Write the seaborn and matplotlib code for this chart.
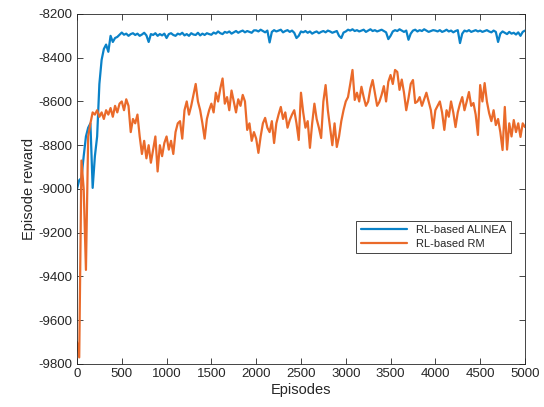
"""
Episode reward curves for the two RL controllers (ALINEA vs RM).
"""

import numpy as np
import pandas as pd
import matplotlib
matplotlib.use("Agg")
import matplotlib.pyplot as plt
import seaborn as sns

# =========================
# Data (one value every 25 episodes)
# =========================

episodes = np.arange(0, 5001, 25)

reward_alinea = [
    -9000, -8960, -8950, -8850, -8760, -8720, -8700, -8995, -8850, -8760,
    -8520, -8410, -8360, -8340, -8373, -8300, -8328, -8310, -8305, -8295,
    -8285, -8295, -8290, -8300, -8292, -8288, -8296, -8290, -8300, -8294,
    -8286, -8298, -8328, -8292, -8296, -8288, -8300, -8292, -8298, -8290,
    -8310, -8292, -8288, -8296, -8300, -8290, -8294, -8286, -8298, -8292,
    -8300, -8288, -8294, -8296, -8286, -8298, -8290, -8296, -8288, -8292,
    -8295, -8285, -8290, -8280, -8288, -8292, -8282, -8286, -8280, -8290,
    -8284, -8278, -8286, -8280, -8276, -8284, -8278, -8282, -8286, -8275,
    -8275, -8280, -8272, -8278, -8284, -8276, -8330, -8282, -8274, -8280,
    -8276, -8272, -8284, -8278, -8274, -8282, -8276, -8286, -8310, -8300,
    -8280, -8284, -8278, -8286, -8280, -8290, -8284, -8280, -8288, -8282,
    -8278, -8284, -8276, -8280, -8286, -8282, -8278, -8300, -8310, -8285,
    -8280, -8272, -8276, -8270, -8278, -8274, -8280, -8276, -8272, -8282,
    -8276, -8270, -8278, -8274, -8280, -8276, -8272, -8278, -8284, -8315,
    -8300, -8280, -8274, -8278, -8270, -8276, -8282, -8276, -8318, -8290,
    -8276, -8272, -8280, -8274, -8278, -8270, -8276, -8282, -8278, -8274,
    -8276, -8280, -8274, -8282, -8278, -8272, -8280, -8276, -8284, -8278,
    -8274, -8333, -8290, -8276, -8280, -8274, -8282, -8278, -8274, -8280,
    -8276, -8282, -8278, -8274, -8280, -8284, -8276, -8282, -8328, -8290,
    -8280, -8286, -8292, -8282, -8290, -8286, -8294, -8284, -8300, -8282,
    -8276,
]

reward_rm = [
    -9700, -9770, -8870, -9000, -9370, -8760, -8700, -8650, -8660, -8640,
    -8670, -8650, -8680, -8640, -8660, -8630, -8670, -8620, -8650, -8610,
    -8600, -8640, -8590, -8620, -8740, -8680, -8700, -8660, -8760, -8840,
    -8780, -8860, -8800, -8880, -8820, -8760, -8920, -8800, -8850, -8790,
    -8760, -8820, -8780, -8840, -8740, -8700, -8690, -8770, -8640, -8600,
    -8660, -8620, -8570, -8520, -8600, -8640, -8700, -8770, -8680, -8640,
    -8610, -8650, -8560, -8600, -8540, -8495, -8610, -8580, -8640, -8550,
    -8600, -8650, -8590, -8620, -8570, -8600, -8730, -8700, -8780, -8740,
    -8770, -8835, -8760, -8700, -8675, -8720, -8740, -8690, -8790, -8700,
    -8660, -8625, -8680, -8650, -8720, -8685, -8660, -8640, -8700, -8776,
    -8560, -8650, -8720, -8690, -8812, -8700, -8610, -8680, -8720, -8767,
    -8600, -8525, -8640, -8720, -8800, -8700, -8808, -8760, -8690, -8640,
    -8600, -8580, -8520, -8456, -8593, -8560, -8600, -8533, -8580, -8620,
    -8600, -8540, -8502, -8560, -8620, -8602, -8570, -8530, -8600, -8510,
    -8479, -8520, -8456, -8465, -8547, -8500, -8560, -8640, -8585, -8520,
    -8502, -8607, -8600, -8580, -8620, -8590, -8560, -8600, -8640, -8722,
    -8640, -8620, -8600, -8650, -8730, -8640, -8670, -8600, -8650, -8717,
    -8650, -8610, -8580, -8640, -8600, -8557, -8620, -8607, -8660, -8753,
    -8525, -8600, -8516, -8600, -8653, -8690, -8640, -8708, -8680, -8740,
    -8822, -8625, -8820, -8700, -8760, -8685, -8740, -8700, -8762, -8700,
    -8717,
]

series_names = ["RL-based ALINEA", "RL-based RM"]
colores = {"RL-based ALINEA": "#0A82C8", "RL-based RM": "#EA6A2A"}

yticks = np.arange(-9800, -8199, 200)
xticks = np.arange(0, 5001, 500)

# =========================
# Figure
# =========================

df = pd.concat([
    pd.DataFrame({"Episodes": episodes, "reward": reward_alinea, "serie": series_names[0]}),
    pd.DataFrame({"Episodes": episodes, "reward": reward_rm, "serie": series_names[1]}),
])

sns.set_style("ticks")
plt.rcParams["font.family"] = ["Liberation Sans", "DejaVu Sans"]
plt.rcParams["axes.unicode_minus"] = False

fig = plt.figure(figsize=(5.44, 4.07), dpi=100)
ax = fig.add_axes([0.1415, 0.1057, 0.8235, 0.86])

sns.lineplot(data=df, x="Episodes", y="reward", hue="serie", hue_order=series_names,
             palette=colores, estimator=None, linewidth=1.6, ax=ax)

ax.set_xlim(0, 5000)
ax.set_ylim(-9800, -8200)
ax.set_xticks(xticks)
ax.set_yticks(yticks)
ax.set_xlabel("Episodes", fontsize=10.5, color="#262626", labelpad=2)
ax.set_ylabel("Episode reward", fontsize=10.5, color="#262626", labelpad=2)
ax.tick_params(direction="in", top=True, right=True, length=4, width=0.6,
               labelsize=9.5, colors="#262626", pad=3)
for lado in ax.spines.values():
    lado.set_linewidth(0.6)
    lado.set_color("#262626")

leg = ax.legend(loc="upper left", bbox_to_anchor=(0.623, 0.409), fontsize=8,
                frameon=True, fancybox=False, framealpha=1, edgecolor="#262626",
                handlelength=4.2, borderpad=0.4, labelspacing=0.3, borderaxespad=0)
leg.get_frame().set_linewidth(0.6)

fig.savefig("out.png", dpi=100)
